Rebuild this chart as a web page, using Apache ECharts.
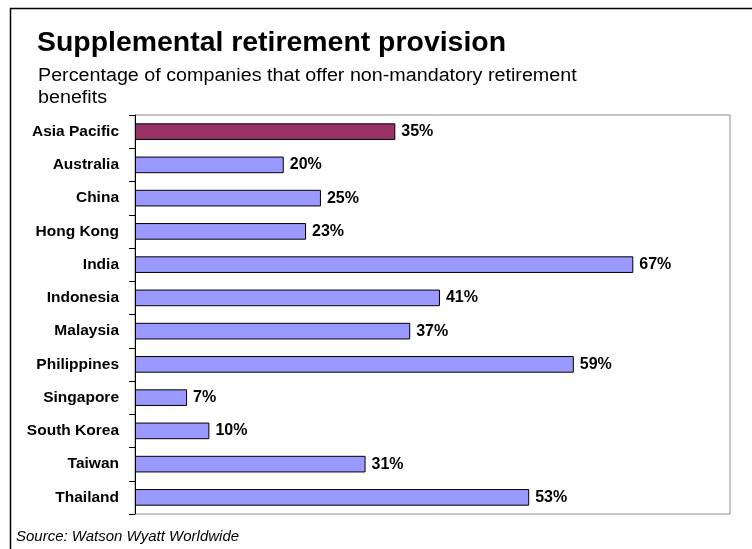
<!DOCTYPE html>
<html>
<head>
<meta charset="utf-8">
<style>
  html, body { margin: 0; padding: 0; background: #fff; }
  #chart { width: 752px; height: 549px; }
</style>
<script src="https://cdn.jsdelivr.net/npm/echarts@6/dist/echarts.min.js"></script>
</head>
<body>
<div id="chart"></div>
<script>
// Share of companies offering supplemental (non-mandatory) retirement benefits
const categories = ['Asia Pacific', 'Australia', 'China', 'Hong Kong', 'India', 'Indonesia',
  'Malaysia', 'Philippines', 'Singapore', 'South Korea', 'Taiwan', 'Thailand'];
const values = [35, 20, 25, 23, 67, 41, 37, 59, 7, 10, 31, 53];
const highlight = 'Asia Pacific';

const FONT = 'Arial, "Liberation Sans", sans-serif';
const chart = echarts.init(document.getElementById('chart'), null, { renderer: 'canvas' });

chart.setOption({
  backgroundColor: '#ffffff',
  animation: false,
  grid: {
    left: 135, top: 115, width: 595, height: 399,
    show: true, borderColor: '#8c8c8c', borderWidth: 1, backgroundColor: 'transparent'
  },
  xAxis: {
    type: 'value', min: 0, max: 80, show: false
  },
  yAxis: {
    type: 'category',
    data: categories,
    inverse: true,
    axisLine: { show: true, lineStyle: { color: '#000', width: 1 } },
    axisTick: { show: true, length: 6, lineStyle: { color: '#000' } },
    axisLabel: {
      margin: 16, color: '#000', fontFamily: FONT, fontWeight: 'bold', fontSize: 15.5
    },
    splitLine: { show: false }
  },
  series: [{
    type: 'bar',
    data: categories.map((c, i) => ({
      value: values[i],
      itemStyle: { color: c === highlight ? '#993366' : '#9999ff' }
    })),
    barCategoryGap: '50%',
    itemStyle: { borderColor: '#000', borderWidth: 1 },
    label: {
      show: true, position: 'right', distance: 6,
      formatter: p => p.value + '%',
      color: '#000', fontFamily: FONT, fontWeight: 'bold', fontSize: 16
    }
  }],
  graphic: [
    {
      type: 'rect', silent: true,
      shape: { x: 10.5, y: 8.5, width: 800, height: 600 },
      style: { fill: 'none', stroke: '#000', lineWidth: 1.5 }
    },
    {
      type: 'text', x: 37, y: 29, scaleX: 1.015,
      style: { x: 0, y: 0, text: 'Supplemental retirement provision', fill: '#000',
        font: 'bold 28px ' + FONT, verticalAlign: 'top' }
    },
    {
      type: 'text', x: 38, y: 65, scaleX: 1.095,
      style: { x: 0, y: 0, text: 'Percentage of companies that offer non-mandatory retirement\nbenefits',
        fill: '#000', font: '18px ' + FONT, lineHeight: 22, verticalAlign: 'top' }
    },
    {
      type: 'text', x: 16, y: 529,
      style: { x: 0, y: 0, text: 'Source: Watson Wyatt Worldwide', fill: '#000',
        font: 'italic 15px ' + FONT, verticalAlign: 'top' }
    }
  ]
});
</script>
</body>
</html>
